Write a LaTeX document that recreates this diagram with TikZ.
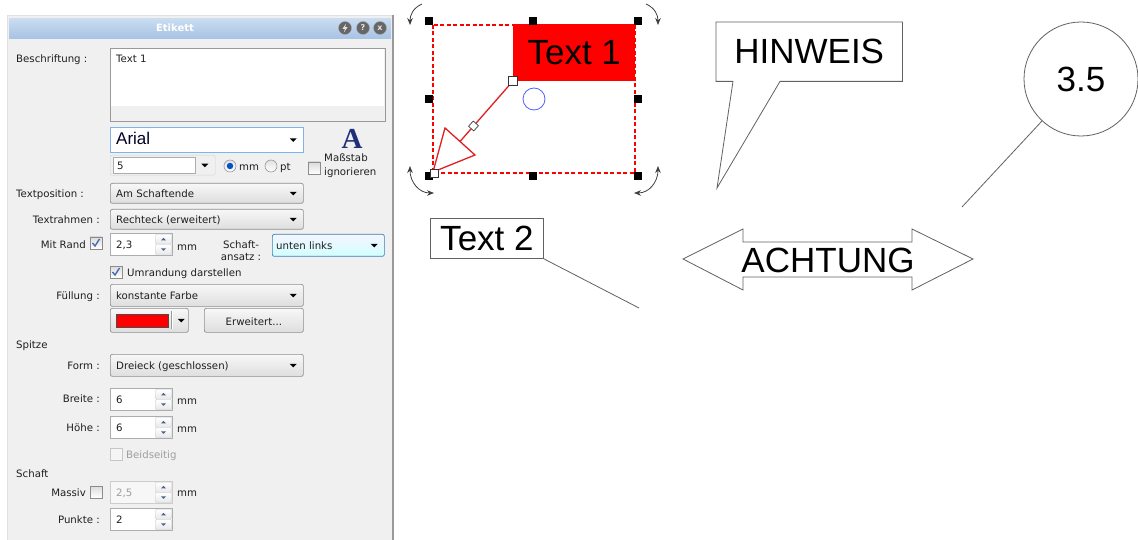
\documentclass[tikz,border=0pt]{standalone}
\usepackage{fontspec}
\setmainfont{Liberation Sans}
\newfontfamily\dlgf{DejaVu Sans}
\newfontfamily\serifA{Liberation Serif}
\usetikzlibrary{arrows.meta,calc}

\definecolor{panelbg}{HTML}{F0F0F0}
\definecolor{cborder}{HTML}{8E8F8F}
\definecolor{fborder}{HTML}{ABADB3}
\definecolor{focusblue}{HTML}{7EB4EA}
\definecolor{selborder}{HTML}{3C7FB1}
\definecolor{titleA}{HTML}{CADDF1}
\definecolor{titleB}{HTML}{A8C3E4}
\definecolor{Adark}{HTML}{1F2F78}
\definecolor{checkcol}{HTML}{4A6AB0}
\definecolor{spinarrow}{HTML}{4C6190}
\definecolor{arrowred}{HTML}{E02020}
\definecolor{circblue}{HTML}{5060FF}

\tikzset{
  dtxt/.style={font=\dlgf\fontsize{10.2}{12}\selectfont, text=black!88, inner sep=0pt, yshift=-1.8pt},
  dgray/.style={text=black!38},
  combo/.style={draw=cborder, rounded corners=2pt, top color=black!3, bottom color=black!13, line width=0.7pt, inner sep=0pt},
  field/.style={draw=fborder, fill=white, inner sep=0pt, line width=0.7pt},
  fielddis/.style={draw=black!20, fill=black!3, inner sep=0pt, line width=0.7pt},
  spinbtn/.style={draw=black!22, rounded corners=1pt, top color=white, bottom color=black!9, minimum width=16pt, minimum height=10pt, inner sep=0pt},
  chk/.style={draw=black!45, top color=black!14, bottom color=white, minimum size=12pt, inner sep=0pt, line width=0.6pt},
  chkdis/.style={draw=black!22, fill=black!4, minimum size=12pt, inner sep=0pt, line width=0.6pt},
  radio/.style={circle, draw=black!40, top color=black!12, bottom color=white, minimum size=12pt, inner sep=0pt, line width=0.6pt},
  icon/.style={circle, minimum size=13pt, inner sep=0pt, draw=black!35, fill=black!60, text=black!10, font=\dlgf\bfseries\fontsize{8}{8}\selectfont},
  big/.style={font=\fontsize{35}{40}\selectfont, inner sep=0pt},
  grayline/.style={draw=black!62, line width=0.8pt},
  handle/.style={fill=black, minimum size=8pt, inner sep=0pt},
  ohandle/.style={draw=black!80, fill=white, minimum size=9pt, inner sep=0pt, line width=0.7pt},
  rotarc/.style={line width=0.8pt, draw=black!75},
  tipst/.tip={Stealth[length=7pt,width=5.5pt]},
}

\newcommand\combo[6]{%
  \node[combo, anchor=north west, minimum width=#4pt, minimum height=#5pt] (#1) at (#2,#3) {};
  \node[dtxt, anchor=mid west] (#1-t) at ($(#1.west)+(6,0)$) {#6};
  \fill ($(#1.east)+(-14,-1.5)$) -- ++(7,0) -- ++(-3.5,3.5) -- cycle;
}
\newcommand\spinbox[6]{%
  \node[#5, anchor=north west, minimum width=62pt, minimum height=22pt] (#1) at (#2,#3) {};
  \node[spinbtn, anchor=north east] (#1-u) at ($(#1.north east)+(-1,1)$) {};
  \node[spinbtn, anchor=south east] (#1-d) at ($(#1.south east)+(-1,-1)$) {};
  \fill[spinarrow] ($(#1-u.center)+(-2.5,1.2)$) -- ++(5,0) -- ++(-2.5,-2.5) -- cycle;
  \fill[spinarrow] ($(#1-d.center)+(-2.5,-1.2)$) -- ++(5,0) -- ++(-2.5,2.5) -- cycle;
  \node[dtxt, #6, anchor=mid west] (#1-t) at ($(#1.west)+(6,0)$) {#4};
}
\newcommand\mychk[1]{%
  \draw[checkcol, line width=1.4pt] ($(#1)+(-3.5,0)$) -- ($(#1)+(-1,3)$) -- ($(#1)+(3.5,-4)$);
}

\begin{document}
\begin{tikzpicture}[x=1pt, y=-1pt]
\useasboundingbox (0,0) rectangle (1138,540);
\clip (0,0) rectangle (1138,540);
\fill[white] (0,0) rectangle (1138,540);

% ---------------- dialog ----------------
\node[draw=black!12, fill=panelbg, minimum width=386pt, minimum height=530pt, anchor=north west, inner sep=0pt] (panel) at (7,15) {};
\draw[black!40, line width=1.5pt] (393,15) -- (393,540);
\node[anchor=north west, minimum width=382pt, minimum height=20pt, inner sep=0pt, top color=titleA, bottom color=titleB] (title) at (9,18) {};
\node[font=\dlgf\bfseries\fontsize{10}{12}\selectfont, text=white, inner sep=0pt] (ttl) at (175,28) {Etikett};
\node[icon] (ic1) at (345,28) {};
\fill[black!10] ($(ic1)+(1.2,-4.5)$) -- ($(ic1)+(-2.5,0.8)$) -- ($(ic1)+(0,0.8)$) -- ($(ic1)+(-1.2,4.5)$) -- ($(ic1)+(2.5,-0.8)$) -- ($(ic1)+(0,-0.8)$) -- cycle;
\node[icon] (ic2) at (363,28) {?};
\node[icon] (ic3) at (380,28) {x};

% Beschriftung
\node[dtxt, anchor=mid west] (lbesch) at (16,58) {Beschriftung :};
\node[draw=black!40, fill=panelbg, anchor=north west, minimum width=275pt, minimum height=73pt, inner sep=0pt, line width=0.7pt] (tarea) at (110,48) {};
\fill[white] (111,49) rectangle (384,106);
\node[dtxt, anchor=mid west] (tareat) at (116,58) {Text 1};

% font
\node[field, draw=focusblue, anchor=north west, minimum width=193pt, minimum height=25pt] (arial) at (110,127) {};
\node[font=\fontsize{17}{20}\selectfont, text=black!85!blue, inner sep=0pt, anchor=mid west] (arialt) at (116,142) {Arial};
\fill ($(arial.east)+(-14,-1.5)$) -- ++(7,0) -- ++(-3.5,3.5) -- cycle;
\node[font=\serifA\bfseries\fontsize{29}{29}\selectfont, text=Adark, inner sep=0pt] (bigA) at (352,139) {A};

\node[draw=black!18, rounded corners=1.5pt, anchor=north west, minimum width=105pt, minimum height=20pt, inner sep=0pt] (sizeo) at (110,155) {};
\node[field, anchor=north west, minimum width=82pt, minimum height=16pt] (size) at (113,157) {};
\node[dtxt, anchor=mid west] (sizet) at (117,165) {5};
\fill ($(sizeo.east)+(-14,-1.5)$) -- ++(7,0) -- ++(-3.5,3.5) -- cycle;
\node[radio] (rmm) at (230,166) {};
\fill[blue!60!cyan!80!black] (rmm) circle (3.2pt);
\node[dtxt, anchor=mid west] (lmm) at (239,166) {mm};
\node[radio] (rpt) at (271,166) {};
\node[dtxt, anchor=mid west] (lpt) at (280,166) {pt};
\node[chk] (cmass) at (314,168) {};
\node[dtxt, anchor=mid west, align=left] (lmass) at (324,171) {Maßstab\\[1.5pt]ignorieren};

% Textposition, Textrahmen
\node[dtxt, anchor=mid west] (ltpos) at (16,193) {Textposition :};
\combo{ctpos}{110}{183}{193}{20}{Am Schaftende}
\node[dtxt, anchor=mid east] (ltrah) at (100,219) {Textrahmen :};
\combo{ctrah}{110}{209}{193}{20}{Rechteck (erweitert)}

% Mit Rand
\node[dtxt, anchor=mid east] (lrand) at (86,244) {Mit Rand};
\node[chk] (crand) at (96,243) {};
\mychk{crand}
\spinbox{srand}{110}{233}{2,3}{field}{}
\node[dtxt, anchor=mid west] (lmm1) at (177,246) {mm};
\node[dtxt, align=center] (lschaft) at (241,249) {Schaft-\\[0pt]ansatz :};
\node[anchor=north west, minimum width=112pt, minimum height=22pt, inner sep=0pt, rounded corners=2pt, draw=selborder, top color=blue!4!white, bottom color=cyan!18!white, line width=0.7pt] (cansatz) at (272,234) {};
\node[dtxt, anchor=mid west] (cansatzt) at (276,245) {unten links};
\fill ($(cansatz.east)+(-14,-1.5)$) -- ++(7,0) -- ++(-3.5,3.5) -- cycle;

% Umrandung
\node[chk] (cumr) at (116,272) {};
\mychk{cumr}
\node[dtxt, anchor=mid west] (lumr) at (127,272) {Umrandung darstellen};

% Fuellung
\node[dtxt, anchor=mid east] (lfuell) at (100,295) {Füllung :};
\combo{cfuell}{110}{284}{193}{22}{konstante Farbe}
\node[combo, anchor=north west, minimum width=78pt, minimum height=24pt] (cfarbe) at (110,308) {};
\node[fill=red, draw=black!70, anchor=north west, minimum width=52pt, minimum height=13pt, inner sep=0pt, line width=0.6pt] (swatch) at (116,314) {};
\draw[black!40] (171,311) -- (171,329);
\draw[white] (172,311) -- (172,329);
\fill ($(cfarbe.east)+(-11,-1.5)$) -- ++(7,0) -- ++(-3.5,3.5) -- cycle;
\node[combo, anchor=north west, minimum width=99pt, minimum height=24pt] (cerw) at (204,308) {};
\node[dtxt] (cerwt) at (cerw) {Erweitert...};

% Spitze
\node[dtxt, anchor=mid west] (lspitze) at (16,344) {Spitze};
\node[dtxt, anchor=mid east] (lform) at (100,365) {Form :};
\combo{cform}{110}{354}{193}{22}{Dreieck (geschlossen)}
\node[dtxt, anchor=mid east] (lbreite) at (100,398) {Breite :};
\spinbox{sbreite}{110}{388}{6}{field}{}
\node[dtxt, anchor=mid west] (lmm2) at (177,400) {mm};
\node[dtxt, anchor=mid east] (lhoehe) at (100,427) {Höhe :};
\spinbox{shoehe}{110}{416}{6}{field}{}
\node[dtxt, anchor=mid west] (lmm3) at (177,428) {mm};
\node[chkdis] (cbeid) at (116,454) {};
\node[dtxt, dgray, anchor=mid west] (lbeid) at (126,454) {Beidseitig};

% Schaft
\node[dtxt, anchor=mid west] (lschaft2) at (16,473) {Schaft};
\node[dtxt, anchor=mid east] (lmassiv) at (86,492) {Massiv};
\node[chk] (cmassiv) at (96,492) {};
\spinbox{smassiv}{110}{481}{2,5}{fielddis}{dgray}
\node[dtxt, anchor=mid west] (lmm4) at (177,492) {mm};
\node[dtxt, anchor=mid east] (lpunkte) at (100,519) {Punkte :};
\spinbox{spunkte}{110}{508}{2}{field}{}

% ---------------- canvas ----------------
% selection frame
\draw[red, dash pattern=on 4pt off 2.5pt, line width=1.2pt] (433,25) rectangle (635,173);
\node[big, fill=red, minimum width=122pt, minimum height=57pt, anchor=north west] (t1) at (513,24) {Text 1};

% red arrow
\coordinate (tailpt) at (513,81);
\coordinate (tippt) at (433,172);
\coordinate (abase) at (460,141.5);
\draw[arrowred, line width=1.3pt] (tailpt) -- (abase);
\draw[arrowred, line width=1.3pt, line join=miter] (445,128) -- (tippt) -- (475,155) -- cycle;

% handles
\foreach \n/\px/\py in {ha/429/21, hb/533/21, hc/638/21, hd/429/99, he/638/99, hf/429/176, hg/533/176, hh/638/176}
  \node[handle] (\n) at (\px,\py) {};
\node[ohandle] (htail) at (tailpt) {};
\node[ohandle, minimum size=8pt] (htip) at ($(tippt)+(1,1)$) {};
\node[draw=black!75, fill=white, minimum size=7pt, inner sep=0pt, rotate=48, line width=0.7pt] (hmid) at (473.5,126) {};
\node[circle, draw=circblue, minimum size=22pt, inner sep=0pt, line width=0.8pt] (bc) at (534,99) {};

% rotation arcs
\draw[rotarc, -tipst] (422,4) .. controls (413,8) and (410,15) .. (410,25);
\draw[rotarc, -tipst] (646,4) .. controls (655,8) and (658,15) .. (658,25);
\draw[rotarc, tipst-tipst] (410,166) .. controls (410,182) and (419,193) .. (434,193);
\draw[rotarc, tipst-tipst] (658,166) .. controls (658,182) and (649,193) .. (634,193);

% HINWEIS callout
\node[big, minimum width=186pt, minimum height=59pt, anchor=north west] (hw) at (716,22) {HINWEIS};
\coordinate (hwtip) at (717,188);
\draw[grayline, line join=miter] (hw.north west) -- (hw.north east) -- (hw.south east) -- ([xshift=64pt]hw.south west) -- (hwtip) -- ([xshift=17pt]hw.south west) -- (hw.south west) -- cycle;

% Text 2
\node[big, draw=black!62, line width=0.8pt, minimum width=113pt, minimum height=40pt, anchor=north west] (t2) at (430,218) {Text 2};
\coordinate (t2end) at (639,308);
\draw[grayline] (t2.south east) -- (t2end);

% 3.5
\node[big, circle, draw=black!62, line width=0.8pt, minimum size=114pt] (c35) at (1081,79) {3.5};
\coordinate (c35end) at (962,207);
\draw[grayline] (c35) -- (c35end);

% ACHTUNG
\draw[grayline, line join=miter] (683,259) -- (743,229) -- (743,242) -- (912,242) -- (912,229) -- (973,259) -- (912,290) -- (912,277) -- (743,277) -- (743,290) -- cycle;
\node[big] (acht) at (828,260) {ACHTUNG};
\end{tikzpicture}
\end{document}
